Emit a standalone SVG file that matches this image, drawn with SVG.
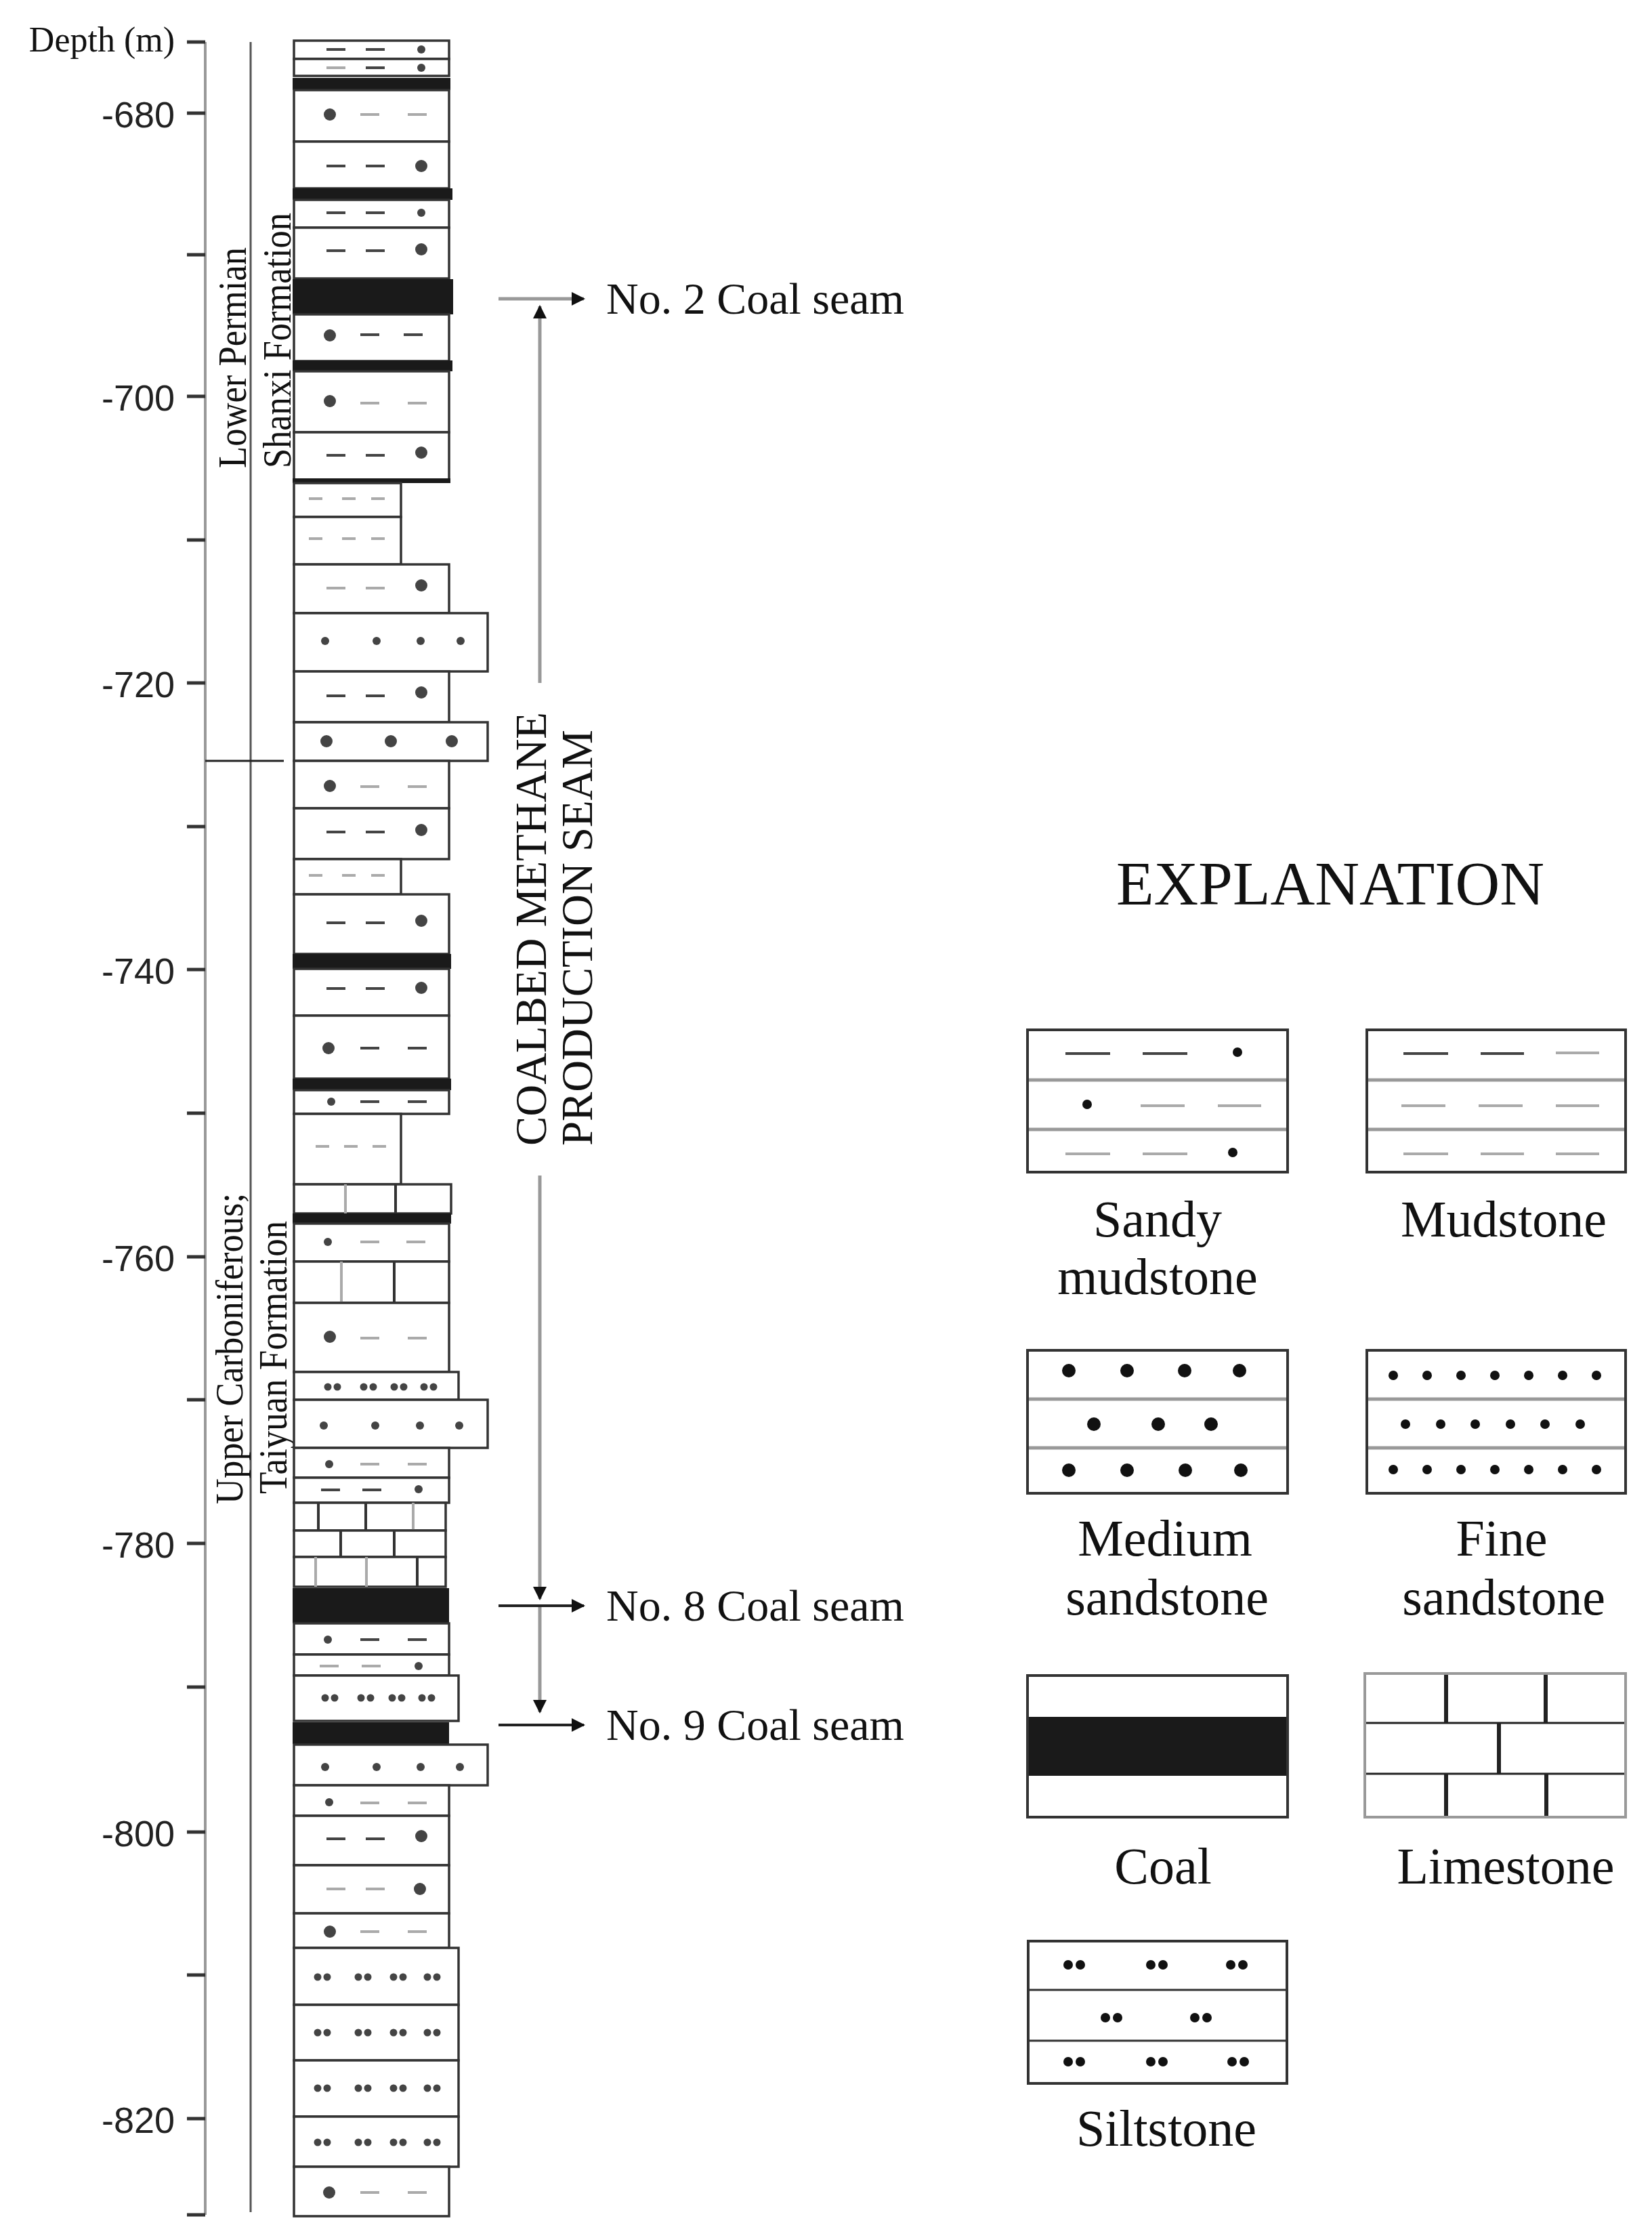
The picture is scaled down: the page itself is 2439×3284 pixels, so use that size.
<svg xmlns="http://www.w3.org/2000/svg" xmlns:xlink="http://www.w3.org/1999/xlink" width="2439" height="3284" viewBox="0 0 2439 3284">
<style>
.lay{fill:#fff;stroke:#333;stroke-width:3.5}
.coal{fill:#1a1a1a}
.dk{stroke:#444;stroke-width:4}
.gr{stroke:#aaa;stroke-width:4}
.vl{stroke:#333;stroke-width:4}
.vg{stroke:#aaa;stroke-width:4}
.tm{font-family:"Liberation Serif","Times New Roman",serif;fill:#111}
.ar{font-family:"Liberation Sans",Arial,sans-serif;fill:#222;font-size:54px;text-anchor:end}
.tick{stroke:#333;stroke-width:5}
.box{fill:#fff;stroke:#333;stroke-width:4}
.bl{stroke:#999;stroke-width:5}
</style>
<defs>
<circle id="db" r="9" fill="#444"/>
<circle id="ds" r="6" fill="#444"/>
<line id="dk" x1="-14" y1="0" x2="14" y2="0" class="dk"/>
<line id="dg" x1="-14" y1="0" x2="14" y2="0" class="gr"/>
<line id="mg" x1="-10" y1="0" x2="10" y2="0" class="gr"/>
<g id="pr"><circle cx="-7" r="5.5" fill="#444"/><circle cx="7" r="5.5" fill="#444"/></g>
<circle id="lb" r="10" fill="#111"/>
<circle id="lm" r="7" fill="#111"/>
<g id="lp"><circle cx="-9" r="7" fill="#111"/><circle cx="9" r="7" fill="#111"/></g>
<marker id="ah" viewBox="0 0 10 10" refX="9" refY="5" markerWidth="22" markerHeight="20" orient="auto" markerUnits="userSpaceOnUse"><path d="M0,0 L10,5 L0,10 z" fill="#111"/></marker>
</defs>

<g id="axis">
<line x1="303" y1="62" x2="303" y2="3269" stroke="#999" stroke-width="4"/>
<line x1="370" y1="62" x2="370" y2="3265" stroke="#555" stroke-width="3"/>
<line x1="303" y1="1123" x2="419" y2="1123" stroke="#222" stroke-width="3"/>
<g class="tick">
<line x1="276" y1="62" x2="303" y2="62"/><line x1="276" y1="167" x2="303" y2="167"/><line x1="276" y1="376" x2="303" y2="376"/><line x1="276" y1="585" x2="303" y2="585"/><line x1="276" y1="797" x2="303" y2="797"/><line x1="276" y1="1008" x2="303" y2="1008"/><line x1="276" y1="1220" x2="303" y2="1220"/><line x1="276" y1="1431" x2="303" y2="1431"/><line x1="276" y1="1643" x2="303" y2="1643"/><line x1="276" y1="1855" x2="303" y2="1855"/><line x1="276" y1="2066" x2="303" y2="2066"/><line x1="276" y1="2278" x2="303" y2="2278"/><line x1="276" y1="2490" x2="303" y2="2490"/><line x1="276" y1="2704" x2="303" y2="2704"/><line x1="276" y1="2915" x2="303" y2="2915"/><line x1="276" y1="3127" x2="303" y2="3127"/><line x1="276" y1="3269" x2="303" y2="3269"/>
</g>
<text class="tm" x="258" y="76" font-size="52" text-anchor="end">Depth (m)</text>
<text class="ar" x="258" y="188">-680</text>
<text class="ar" x="258" y="606">-700</text>
<text class="ar" x="258" y="1029">-720</text>
<text class="ar" x="258" y="1452">-740</text>
<text class="ar" x="258" y="1876">-760</text>
<text class="ar" x="258" y="2299">-780</text>
<text class="ar" x="258" y="2725">-800</text>
<text class="ar" x="258" y="3148">-820</text>
<text class="tm" font-size="60" textLength="326" lengthAdjust="spacingAndGlyphs" transform="translate(363,691) rotate(-90)">Lower Permian</text>
<text class="tm" font-size="60" textLength="377" lengthAdjust="spacingAndGlyphs" transform="translate(429,691) rotate(-90)">Shanxi Formation</text>
<text class="tm" font-size="58" textLength="459" lengthAdjust="spacingAndGlyphs" transform="translate(358,2220) rotate(-90)">Upper Carboniferous;</text>
<text class="tm" font-size="60" textLength="403" lengthAdjust="spacingAndGlyphs" transform="translate(423,2205) rotate(-90)">Taiyuan Formation</text>
</g>

<g id="column">
<rect class="lay" x="434" y="60" width="229" height="27"/><use href="#dk" x="496" y="73"/><use href="#dk" x="554" y="73"/><use href="#ds" x="622" y="73"/>
<rect class="lay" x="434" y="87" width="229" height="25"/><use href="#dg" x="496" y="100"/><use href="#dk" x="554" y="100"/><use href="#ds" x="622" y="100"/>
<rect class="coal" x="432" y="115" width="233" height="18"/>
<rect class="lay" x="434" y="133" width="229" height="76"/><use href="#db" x="487" y="169"/><use href="#dg" x="546" y="169"/><use href="#dg" x="616" y="169"/>
<rect class="lay" x="434" y="209" width="229" height="69"/><use href="#dk" x="496" y="245"/><use href="#dk" x="554" y="245"/><use href="#db" x="622" y="245"/>
<rect class="coal" x="432" y="278" width="236" height="17"/>
<rect class="lay" x="434" y="295" width="229" height="41"/><use href="#dk" x="496" y="314"/><use href="#dk" x="554" y="314"/><use href="#ds" x="622" y="314"/>
<rect class="lay" x="434" y="336" width="229" height="75"/><use href="#dk" x="496" y="370"/><use href="#dk" x="554" y="370"/><use href="#db" x="622" y="368"/>
<rect class="coal" x="432" y="412" width="237" height="52"/>
<rect class="lay" x="434" y="464" width="229" height="69"/><use href="#db" x="487" y="495"/><use href="#dk" x="546" y="494"/><use href="#dk" x="610" y="494"/>
<rect class="coal" x="432" y="532" width="236" height="16"/>
<rect class="lay" x="434" y="548" width="229" height="90"/><use href="#db" x="487" y="592"/><use href="#dg" x="546" y="595"/><use href="#dg" x="616" y="595"/>
<rect class="lay" x="434" y="638" width="229" height="71"/><use href="#dk" x="496" y="672"/><use href="#dk" x="554" y="672"/><use href="#db" x="622" y="668"/>
<rect class="coal" x="432" y="706" width="233" height="7"/>
<rect class="lay" x="434" y="713" width="158" height="50"/><use href="#mg" x="466" y="736"/><use href="#mg" x="515" y="736"/><use href="#mg" x="558" y="736"/>
<rect class="lay" x="434" y="763" width="158" height="70"/><use href="#mg" x="466" y="795"/><use href="#mg" x="515" y="795"/><use href="#mg" x="558" y="795"/>
<rect class="lay" x="434" y="833" width="229" height="72"/><use href="#dg" x="496" y="868"/><use href="#dg" x="554" y="868"/><use href="#db" x="622" y="864"/>
<rect class="lay" x="434" y="905" width="286" height="86"/><use href="#ds" x="480" y="946"/><use href="#ds" x="556" y="946"/><use href="#ds" x="621" y="946"/><use href="#ds" x="680" y="946"/>
<rect class="lay" x="434" y="991" width="229" height="75"/><use href="#dk" x="496" y="1027"/><use href="#dk" x="554" y="1027"/><use href="#db" x="622" y="1022"/>
<rect class="lay" x="434" y="1066" width="286" height="57"/><use href="#db" x="482" y="1094"/><use href="#db" x="577" y="1094"/><use href="#db" x="667" y="1094"/>
<rect class="lay" x="434" y="1123" width="229" height="70"/><use href="#db" x="487" y="1160"/><use href="#dg" x="546" y="1161"/><use href="#dg" x="616" y="1161"/>
<rect class="lay" x="434" y="1193" width="229" height="75"/><use href="#dk" x="496" y="1228"/><use href="#dk" x="554" y="1228"/><use href="#db" x="622" y="1225"/>
<rect class="lay" x="434" y="1268" width="158" height="52"/><use href="#mg" x="466" y="1292"/><use href="#mg" x="515" y="1292"/><use href="#mg" x="558" y="1292"/>
<rect class="lay" x="434" y="1320" width="229" height="88"/><use href="#dk" x="496" y="1362"/><use href="#dk" x="554" y="1362"/><use href="#db" x="622" y="1359"/>
<rect class="coal" x="432" y="1408" width="234" height="22"/>
<rect class="lay" x="434" y="1430" width="229" height="69"/><use href="#dk" x="496" y="1459"/><use href="#dk" x="554" y="1459"/><use href="#db" x="622" y="1458"/>
<rect class="lay" x="434" y="1499" width="229" height="93"/><use href="#db" x="485" y="1547"/><use href="#dk" x="546" y="1547"/><use href="#dk" x="616" y="1547"/>
<rect class="coal" x="432" y="1592" width="234" height="17"/>
<rect class="lay" x="434" y="1609" width="229" height="35"/><use href="#ds" x="489" y="1626"/><use href="#dk" x="546" y="1626"/><use href="#dk" x="616" y="1626"/>
<rect class="lay" x="434" y="1644" width="158" height="104"/><use href="#mg" x="476" y="1692"/><use href="#mg" x="518" y="1692"/><use href="#mg" x="560" y="1692"/>
<rect class="lay" x="434" y="1748" width="232" height="43"/><line class="vg" x1="510" y1="1748" x2="510" y2="1791"/><line class="vl" x1="584" y1="1748" x2="584" y2="1791"/>
<rect class="coal" x="432" y="1791" width="234" height="15"/>
<rect class="lay" x="434" y="1806" width="229" height="56"/><use href="#ds" x="484" y="1833"/><use href="#dg" x="546" y="1833"/><use href="#dg" x="614" y="1833"/>
<rect class="lay" x="434" y="1862" width="229" height="61"/><line class="vg" x1="504" y1="1862" x2="504" y2="1923"/><line class="vl" x1="582" y1="1862" x2="582" y2="1923"/>
<rect class="lay" x="434" y="1923" width="229" height="102"/><use href="#db" x="487" y="1973"/><use href="#dg" x="546" y="1975"/><use href="#dg" x="616" y="1975"/>
<rect class="lay" x="434" y="2025" width="243" height="41"/><use href="#pr" x="491" y="2047"/><use href="#pr" x="544" y="2047"/><use href="#pr" x="589" y="2047"/><use href="#pr" x="633" y="2047"/>
<rect class="lay" x="434" y="2066" width="286" height="71"/><use href="#ds" x="478" y="2104"/><use href="#ds" x="554" y="2104"/><use href="#ds" x="620" y="2104"/><use href="#ds" x="678" y="2104"/>
<rect class="lay" x="434" y="2137" width="229" height="44"/><use href="#ds" x="486" y="2161"/><use href="#dg" x="546" y="2161"/><use href="#dg" x="616" y="2161"/>
<rect class="lay" x="434" y="2181" width="229" height="37"/><use href="#dk" x="488" y="2199"/><use href="#dk" x="549" y="2199"/><use href="#ds" x="618" y="2198"/>
<rect class="lay" x="434" y="2218" width="224" height="41"/><line class="vl" x1="470" y1="2218" x2="470" y2="2259"/><line class="vl" x1="540" y1="2218" x2="540" y2="2259"/><line class="vg" x1="610" y1="2218" x2="610" y2="2259"/>
<rect class="lay" x="434" y="2259" width="224" height="39"/><line class="vl" x1="503" y1="2259" x2="503" y2="2298"/><line class="vl" x1="582" y1="2259" x2="582" y2="2298"/>
<rect class="lay" x="434" y="2298" width="224" height="44"/><line class="vg" x1="466" y1="2298" x2="466" y2="2342"/><line class="vg" x1="541" y1="2298" x2="541" y2="2342"/><line class="vl" x1="616" y1="2298" x2="616" y2="2342"/>
<rect class="coal" x="432" y="2344" width="231" height="52"/>
<rect class="lay" x="434" y="2396" width="229" height="46"/><use href="#ds" x="484" y="2420"/><use href="#dk" x="546" y="2420"/><use href="#dk" x="616" y="2420"/>
<rect class="lay" x="434" y="2442" width="229" height="31"/><use href="#dg" x="486" y="2459"/><use href="#dg" x="548" y="2459"/><use href="#ds" x="618" y="2459"/>
<rect class="lay" x="434" y="2473" width="243" height="67"/><use href="#pr" x="487" y="2506"/><use href="#pr" x="540" y="2506"/><use href="#pr" x="586" y="2506"/><use href="#pr" x="630" y="2506"/>
<rect class="coal" x="432" y="2542" width="231" height="32"/>
<rect class="lay" x="434" y="2575" width="286" height="60"/><use href="#ds" x="480" y="2608"/><use href="#ds" x="556" y="2608"/><use href="#ds" x="621" y="2608"/><use href="#ds" x="679" y="2608"/>
<rect class="lay" x="434" y="2635" width="229" height="45"/><use href="#ds" x="486" y="2660"/><use href="#dg" x="546" y="2661"/><use href="#dg" x="616" y="2661"/>
<rect class="lay" x="434" y="2680" width="229" height="73"/><use href="#dk" x="496" y="2714"/><use href="#dk" x="554" y="2714"/><use href="#db" x="622" y="2710"/>
<rect class="lay" x="434" y="2753" width="229" height="71"/><use href="#dg" x="496" y="2788"/><use href="#dg" x="554" y="2788"/><use href="#db" x="620" y="2788"/>
<rect class="lay" x="434" y="2824" width="229" height="51"/><use href="#db" x="487" y="2851"/><use href="#dg" x="546" y="2851"/><use href="#dg" x="616" y="2851"/>
<rect class="lay" x="434" y="2875" width="243" height="84"/><use href="#pr" x="476" y="2918"/><use href="#pr" x="536" y="2918"/><use href="#pr" x="588" y="2918"/><use href="#pr" x="638" y="2918"/>
<rect class="lay" x="434" y="2959" width="243" height="82"/><use href="#pr" x="476" y="3000"/><use href="#pr" x="536" y="3000"/><use href="#pr" x="588" y="3000"/><use href="#pr" x="638" y="3000"/>
<rect class="lay" x="434" y="3041" width="243" height="83"/><use href="#pr" x="476" y="3082"/><use href="#pr" x="536" y="3082"/><use href="#pr" x="588" y="3082"/><use href="#pr" x="638" y="3082"/>
<rect class="lay" x="434" y="3124" width="243" height="74"/><use href="#pr" x="476" y="3162"/><use href="#pr" x="536" y="3162"/><use href="#pr" x="588" y="3162"/><use href="#pr" x="638" y="3162"/>
<rect class="lay" x="434" y="3198" width="229" height="73"/><use href="#db" x="486" y="3236"/><use href="#dg" x="546" y="3236"/><use href="#dg" x="616" y="3236"/>
</g>

<g id="connectors">
<line x1="736" y1="441" x2="862" y2="441" stroke="#999" stroke-width="5" marker-end="url(#ah)"/>
<line x1="797" y1="1008" x2="797" y2="452" stroke="#999" stroke-width="5" marker-end="url(#ah)"/>
<line x1="797" y1="1735" x2="797" y2="2360" stroke="#999" stroke-width="5" marker-end="url(#ah)"/>
<line x1="797" y1="2370" x2="797" y2="2527" stroke="#999" stroke-width="5" marker-end="url(#ah)"/>
<line x1="736" y1="2370" x2="862" y2="2370" stroke="#222" stroke-width="4" marker-end="url(#ah)"/>
<line x1="736" y1="2546" x2="862" y2="2546" stroke="#222" stroke-width="4" marker-end="url(#ah)"/>
</g>

<g id="labels">
<text class="tm" x="895" y="463" font-size="66">No. 2 Coal seam</text>
<text class="tm" x="895" y="2392" font-size="66">No. 8 Coal seam</text>
<text class="tm" x="895" y="2568" font-size="66">No. 9 Coal seam</text>
<text class="tm" font-size="66" textLength="640" lengthAdjust="spacingAndGlyphs" transform="translate(806,1691) rotate(-90)">COALBED METHANE</text>
<text class="tm" font-size="66" textLength="614" lengthAdjust="spacingAndGlyphs" transform="translate(874,1691) rotate(-90)">PRODUCTION SEAM</text>
</g>

<g id="legend">
<text class="tm" x="1648" y="1335" font-size="92" textLength="632" lengthAdjust="spacingAndGlyphs">EXPLANATION</text>
<g id="lg-sandy">
<rect class="box" x="1517" y="1520" width="384" height="210"/>
<line class="bl" x1="1519" y1="1594" x2="1899" y2="1594"/><line class="bl" x1="1519" y1="1667" x2="1899" y2="1667"/>
<line class="dk" x1="1573" y1="1555" x2="1639" y2="1555"/><line class="dk" x1="1687" y1="1555" x2="1753" y2="1555"/><use href="#lm" x="1827" y="1553"/>
<use href="#lm" x="1605" y="1630"/><line class="gr" x1="1684" y1="1632" x2="1749" y2="1632"/><line class="gr" x1="1798" y1="1632" x2="1862" y2="1632"/>
<line class="gr" x1="1573" y1="1703" x2="1639" y2="1703"/><line class="gr" x1="1687" y1="1703" x2="1753" y2="1703"/><use href="#lm" x="1820" y="1701"/>
<text class="tm" x="1709" y="1825" font-size="76" text-anchor="middle">Sandy</text>
<text class="tm" x="1709" y="1910" font-size="76" text-anchor="middle">mudstone</text>
</g>
<g id="lg-mud">
<rect class="box" x="2018" y="1520" width="382" height="210"/>
<line class="bl" x1="2020" y1="1594" x2="2398" y2="1594"/><line class="bl" x1="2020" y1="1667" x2="2398" y2="1667"/>
<line class="dk" x1="2072" y1="1555" x2="2138" y2="1555"/><line class="dk" x1="2186" y1="1555" x2="2250" y2="1555"/><line class="gr" x1="2297" y1="1554" x2="2361" y2="1554"/>
<line class="gr" x1="2069" y1="1632" x2="2134" y2="1632"/><line class="gr" x1="2183" y1="1632" x2="2248" y2="1632"/><line class="gr" x1="2297" y1="1632" x2="2361" y2="1632"/>
<line class="gr" x1="2072" y1="1703" x2="2138" y2="1703"/><line class="gr" x1="2186" y1="1703" x2="2250" y2="1703"/><line class="gr" x1="2297" y1="1703" x2="2361" y2="1703"/>
<text class="tm" x="2220" y="1825" font-size="76" text-anchor="middle">Mudstone</text>
</g>
<g id="lg-medium">
<rect class="box" x="1517" y="1993" width="384" height="211"/>
<line class="bl" x1="1519" y1="2065" x2="1899" y2="2065"/><line class="bl" x1="1519" y1="2137" x2="1899" y2="2137"/>
<use href="#lb" x="1578" y="2023"/><use href="#lb" x="1664" y="2023"/><use href="#lb" x="1749" y="2023"/><use href="#lb" x="1830" y="2023"/>
<use href="#lb" x="1615" y="2102"/><use href="#lb" x="1710" y="2102"/><use href="#lb" x="1788" y="2102"/>
<use href="#lb" x="1578" y="2170"/><use href="#lb" x="1664" y="2170"/><use href="#lb" x="1750" y="2170"/><use href="#lb" x="1832" y="2170"/>
<text class="tm" x="1720" y="2296" font-size="76" text-anchor="middle">Medium</text>
<text class="tm" x="1723" y="2383" font-size="76" text-anchor="middle">sandstone</text>
</g>
<g id="lg-fine">
<rect class="box" x="2018" y="1993" width="382" height="211"/>
<line class="bl" x1="2020" y1="2065" x2="2398" y2="2065"/><line class="bl" x1="2020" y1="2137" x2="2398" y2="2137"/>
<use href="#lm" x="2057" y="2030"/><use href="#lm" x="2107" y="2030"/><use href="#lm" x="2157" y="2030"/><use href="#lm" x="2207" y="2030"/><use href="#lm" x="2257" y="2030"/><use href="#lm" x="2307" y="2030"/><use href="#lm" x="2357" y="2030"/>
<use href="#lm" x="2075" y="2102"/><use href="#lm" x="2127" y="2102"/><use href="#lm" x="2178" y="2102"/><use href="#lm" x="2230" y="2102"/><use href="#lm" x="2281" y="2102"/><use href="#lm" x="2333" y="2102"/>
<use href="#lm" x="2057" y="2169"/><use href="#lm" x="2107" y="2169"/><use href="#lm" x="2157" y="2169"/><use href="#lm" x="2207" y="2169"/><use href="#lm" x="2257" y="2169"/><use href="#lm" x="2307" y="2169"/><use href="#lm" x="2357" y="2169"/>
<text class="tm" x="2217" y="2296" font-size="76" text-anchor="middle">Fine</text>
<text class="tm" x="2220" y="2383" font-size="76" text-anchor="middle">sandstone</text>
</g>
<g id="lg-coal">
<rect class="box" x="1517" y="2473" width="384" height="209"/>
<rect class="coal" x="1519" y="2534" width="380" height="87"/>
<text class="tm" x="1717" y="2780" font-size="76" text-anchor="middle">Coal</text>
</g>
<g id="lg-lime">
<rect x="2015" y="2470" width="385" height="212" fill="#fff" stroke="#999" stroke-width="4"/>
<line x1="2017" y1="2543" x2="2398" y2="2543" stroke="#222" stroke-width="3"/><line x1="2017" y1="2618" x2="2398" y2="2618" stroke="#222" stroke-width="3"/>
<line x1="2135" y1="2472" x2="2135" y2="2543" stroke="#222" stroke-width="6"/><line x1="2282" y1="2472" x2="2282" y2="2543" stroke="#222" stroke-width="6"/>
<line x1="2213" y1="2543" x2="2213" y2="2618" stroke="#222" stroke-width="6"/>
<line x1="2135" y1="2618" x2="2135" y2="2680" stroke="#222" stroke-width="6"/><line x1="2283" y1="2618" x2="2283" y2="2680" stroke="#222" stroke-width="6"/>
<text class="tm" x="2223" y="2780" font-size="76" text-anchor="middle">Limestone</text>
</g>
<g id="lg-silt">
<rect class="box" x="1518" y="2865" width="382" height="210"/>
<line x1="1520" y1="2937" x2="1898" y2="2937" stroke="#333" stroke-width="3"/><line x1="1520" y1="3012" x2="1898" y2="3012" stroke="#333" stroke-width="3"/>
<use href="#lp" x="1586" y="2900"/><use href="#lp" x="1708" y="2900"/><use href="#lp" x="1826" y="2900"/>
<use href="#lp" x="1641" y="2978"/><use href="#lp" x="1773" y="2978"/>
<use href="#lp" x="1586" y="3043"/><use href="#lp" x="1708" y="3043"/><use href="#lp" x="1828" y="3043"/>
<text class="tm" x="1722" y="3167" font-size="76" text-anchor="middle">Siltstone</text>
</g>
</g>
</svg>
